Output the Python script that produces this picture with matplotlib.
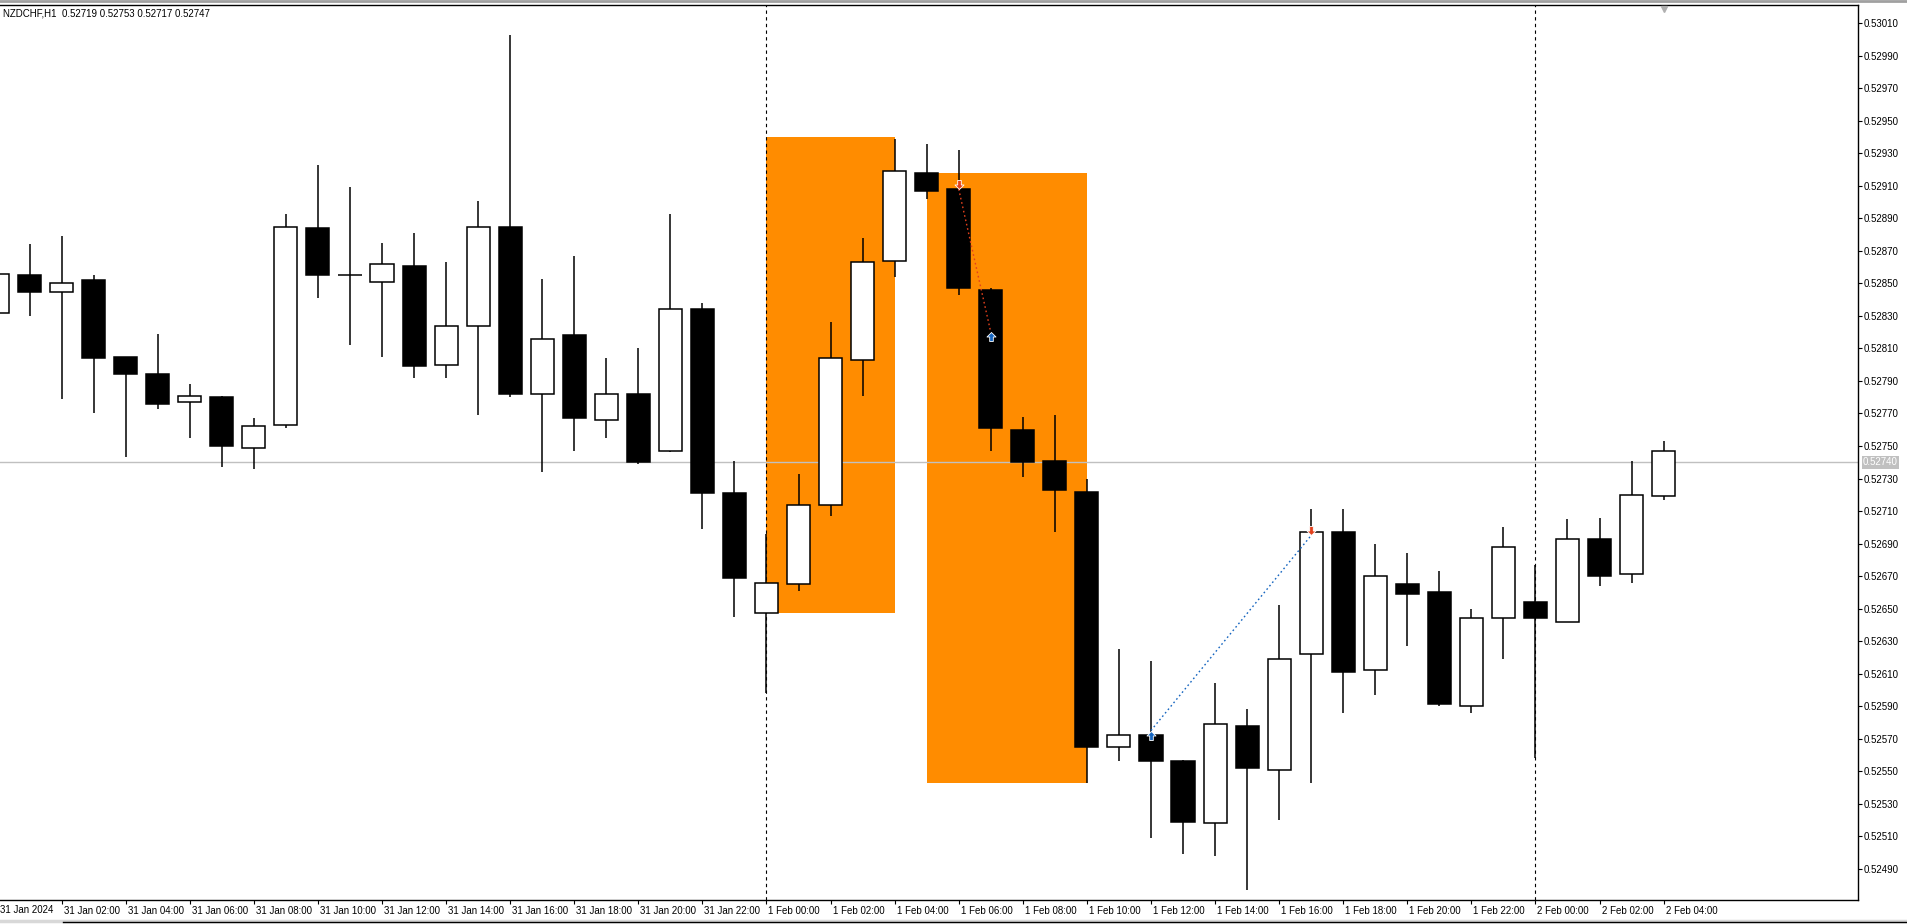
import matplotlib
matplotlib.use("Agg")
import matplotlib.pyplot as plt
import matplotlib.transforms as mtransforms
from matplotlib.patches import Rectangle
from matplotlib.lines import Line2D

plt.rcParams["font.family"] = ["Liberation Sans", "DejaVu Sans"]

# hourly NZDCHF bars, 31 Jan 00:00 .. 2 Feb 04:00
opens = [0.52832, 0.52855, 0.52845, 0.52852, 0.52805, 0.52794, 0.52777, 0.52780, 0.52749, 0.52763,
         0.52884, 0.52855, 0.52851, 0.52861, 0.52800, 0.52824, 0.52885, 0.52782, 0.52818, 0.52766,
         0.52782, 0.52747, 0.52834, 0.52721, 0.52647, 0.52665, 0.52714, 0.52803, 0.52864, 0.52918,
         0.52908, 0.52846, 0.52760, 0.52741, 0.52722, 0.52565, 0.52572, 0.52556, 0.52518, 0.52578,
         0.52551, 0.52622, 0.52697, 0.52612, 0.52665, 0.52660, 0.52590, 0.52644, 0.52654, 0.52642,
         0.52693, 0.52671, 0.52719]
highs = [0.52857, 0.52874, 0.52879, 0.52855, 0.52805, 0.52819, 0.52788, 0.52781, 0.52767, 0.52893,
         0.52923, 0.52909, 0.52875, 0.52881, 0.52863, 0.52901, 0.53003, 0.52853, 0.52867, 0.52804,
         0.52810, 0.52893, 0.52838, 0.52741, 0.52696, 0.52733, 0.52826, 0.52878, 0.52939, 0.52936,
         0.52932, 0.52847, 0.52768, 0.52769, 0.52730, 0.52625, 0.52618, 0.52557, 0.52604, 0.52588,
         0.52652, 0.52711, 0.52711, 0.52690, 0.52684, 0.52673, 0.52650, 0.52700, 0.52677, 0.52705,
         0.52706, 0.52741, 0.52753]
lows = [0.52831, 0.52830, 0.52779, 0.52770, 0.52743, 0.52773, 0.52755, 0.52737, 0.52736, 0.52761,
        0.52841, 0.52812, 0.52805, 0.52792, 0.52792, 0.52769, 0.52780, 0.52734, 0.52747, 0.52755,
        0.52739, 0.52746, 0.52699, 0.52645, 0.52598, 0.52661, 0.52707, 0.52781, 0.52854, 0.52902,
        0.52843, 0.52747, 0.52731, 0.52697, 0.52543, 0.52556, 0.52509, 0.52499, 0.52498, 0.52477,
        0.52520, 0.52543, 0.52586, 0.52597, 0.52627, 0.52590, 0.52586, 0.52619, 0.52558, 0.52642,
        0.52664, 0.52666, 0.52717]
closes = [0.52856, 0.52845, 0.52850, 0.52804, 0.52794, 0.52776, 0.52781, 0.52750, 0.52762, 0.52885,
          0.52855, 0.52855, 0.52862, 0.52799, 0.52824, 0.52885, 0.52782, 0.52816, 0.52767, 0.52782,
          0.52740, 0.52834, 0.52721, 0.52669, 0.52666, 0.52714, 0.52804, 0.52863, 0.52919, 0.52907,
          0.52847, 0.52761, 0.52740, 0.52723, 0.52565, 0.52572, 0.52556, 0.52519, 0.52579, 0.52552,
          0.52619, 0.52697, 0.52611, 0.52670, 0.52659, 0.52591, 0.52644, 0.52688, 0.52644, 0.52693,
          0.52670, 0.52720, 0.52747]

time_labels = ["31 Jan 2024", "31 Jan 02:00", "31 Jan 04:00", "31 Jan 06:00", "31 Jan 08:00",
               "31 Jan 10:00", "31 Jan 12:00", "31 Jan 14:00", "31 Jan 16:00", "31 Jan 18:00",
               "31 Jan 20:00", "31 Jan 22:00", "1 Feb 00:00", "1 Feb 02:00", "1 Feb 04:00",
               "1 Feb 06:00", "1 Feb 08:00", "1 Feb 10:00", "1 Feb 12:00", "1 Feb 14:00",
               "1 Feb 16:00", "1 Feb 18:00", "1 Feb 20:00", "1 Feb 22:00", "2 Feb 00:00",
               "2 Feb 02:00", "2 Feb 04:00"]
day_breaks = [24, 48]

# orange zones: (first bar, last bar, low price, high price)
zones = [(24, 28, 0.52647, 0.52940), (29, 34, 0.52543, 0.52918)]

# trades: (open bar, open price, close bar, close price, direction)
trades = [(30, 0.52908, 31, 0.52820, "sell"), (36, 0.52575, 41, 0.52695, "buy")]

bid_price = 0.52740
price_ticks = [0.52490 + 0.0002 * i for i in range(27)]

W, H = 1907, 924
fig = plt.figure(figsize=(W / 100, H / 100), dpi=100)
ax = fig.add_axes([0, 24 / H, 1858 / W, 895 / H])

n = len(opens)
xs = list(range(n))

# zones
for x0, x1, lo, hi in zones:
    ax.add_patch(Rectangle((x0, lo), x1 - x0, hi - lo, facecolor="#ff8c00",
                           edgecolor="none", zorder=1))

ax.axhline(bid_price, color="#c0c0c0", lw=1.0, zorder=1.5)
for b in day_breaks:
    ax.axvline(b, color="black", lw=0.8, ls=(0, (3, 3)), zorder=1.6)

# candles
ax.vlines(xs, lows, highs, color="black", lw=1.1, zorder=3)
bottoms = [min(o, c) for o, c in zip(opens, closes)]
heights = [abs(c - o) for o, c in zip(opens, closes)]
fills = ["white" if c >= o else "black" for o, c in zip(opens, closes)]
ax.bar(xs, heights, bottom=bottoms, width=0.72, color=fills, edgecolor="black",
       linewidth=1.1, zorder=4)

# trade arrows
up_arrow = [(0, 0), (1, -1), (0.4, -1), (0.4, -2), (-0.4, -2), (-0.4, -1), (-1, -1), (0, 0)]
down_arrow = [(x, -y) for x, y in up_arrow]
red, blue = "#e2401c", "#1565c0"
for xa, pa, xb, pb, side in trades:
    line_col = red if side == "sell" else blue
    ax.plot([xa, xb], [pa, pb], color=line_col, lw=1.0, ls=(0, (1.2, 2)), zorder=5)
    if side == "sell":
        ax.plot(xa, pa, marker=down_arrow, ms=13, color=red, mec="white", mew=0.6, zorder=6)
        ax.plot(xb, pb, marker=up_arrow, ms=13, color=blue, mec="white", mew=0.6, zorder=6)
    else:
        ax.plot(xa, pa, marker=up_arrow, ms=13, color=blue, mec="white", mew=0.6, zorder=6)
        ax.plot(xb, pb, marker=down_arrow, ms=13, color=red, mec="white", mew=0.6, zorder=6)

ax.set_xlim(0.077, 58.067)
ax.set_ylim(0.5247075, 0.5302125)

# axes frame
ax.spines["left"].set_visible(False)
for s in ["top", "right", "bottom"]:
    ax.spines[s].set_linewidth(1.0)
    ax.spines[s].set_color("black")

ax.yaxis.tick_right()
ax.set_yticks(price_ticks)
ax.set_yticklabels([f"{p:.5f}" for p in price_ticks])
ax.tick_params(axis="y", length=3, width=0.8, pad=1, labelsize=7)

tick_pos = list(range(0, n, 2))
ax.set_xticks(tick_pos[1:])
ax.set_xticklabels(time_labels[1:])
ax.tick_params(axis="x", length=3, width=0.8, pad=1, labelsize=7)
shift = mtransforms.ScaledTranslation(2 / 100, 0, fig.dpi_scale_trans)
for lab in ax.get_xticklabels():
    lab.set_horizontalalignment("left")
    lab.set_transform(lab.get_transform() + shift)
# first label sits left of the visible range
ax.annotate(time_labels[0], xy=(tick_pos[0], 0), xycoords=("data", "axes fraction"),
            xytext=(2, -5), textcoords="offset pixels", ha="left", va="top",
            fontsize=7, annotation_clip=False)

# bid price label on the scale
ax.annotate(f"{bid_price:.5f}", xy=(1, bid_price), xycoords=("axes fraction", "data"),
            xytext=(5, 0), textcoords="offset pixels", ha="left", va="center",
            fontsize=7, color="white", annotation_clip=False,
            bbox=dict(boxstyle="square,pad=0.15", fc="#c0c0c0", ec="none"))

# chart shift marker at the last bar, just under the top border
shift_trans = (mtransforms.blended_transform_factory(ax.transData, ax.transAxes)
               + mtransforms.ScaledTranslation(0, -4 / 100, fig.dpi_scale_trans))
ax.plot(n - 1, 1.0, marker="v", ms=5, color="#b0b0b0", transform=shift_trans,
        clip_on=False, zorder=6)

fig.text(3 / W, 1 - 14 / H, "NZDCHF,H1  0.52719 0.52753 0.52717 0.52747",
         fontsize=7, ha="left", va="center")

# window chrome
fig.add_artist(Line2D([0, 1], [1 - 1.2 / H, 1 - 1.2 / H], color="#a0a0a0", lw=2,
                      transform=fig.transFigure))
fig.add_artist(Line2D([0, 1], [3 / H, 3 / H], color="#d8d8d8", lw=2.5,
                      transform=fig.transFigure))
fig.add_artist(Line2D([63 / W, 1], [2 / H, 2 / H], color="black", lw=1,
                      transform=fig.transFigure))

fig.savefig("out.png", dpi=100)
